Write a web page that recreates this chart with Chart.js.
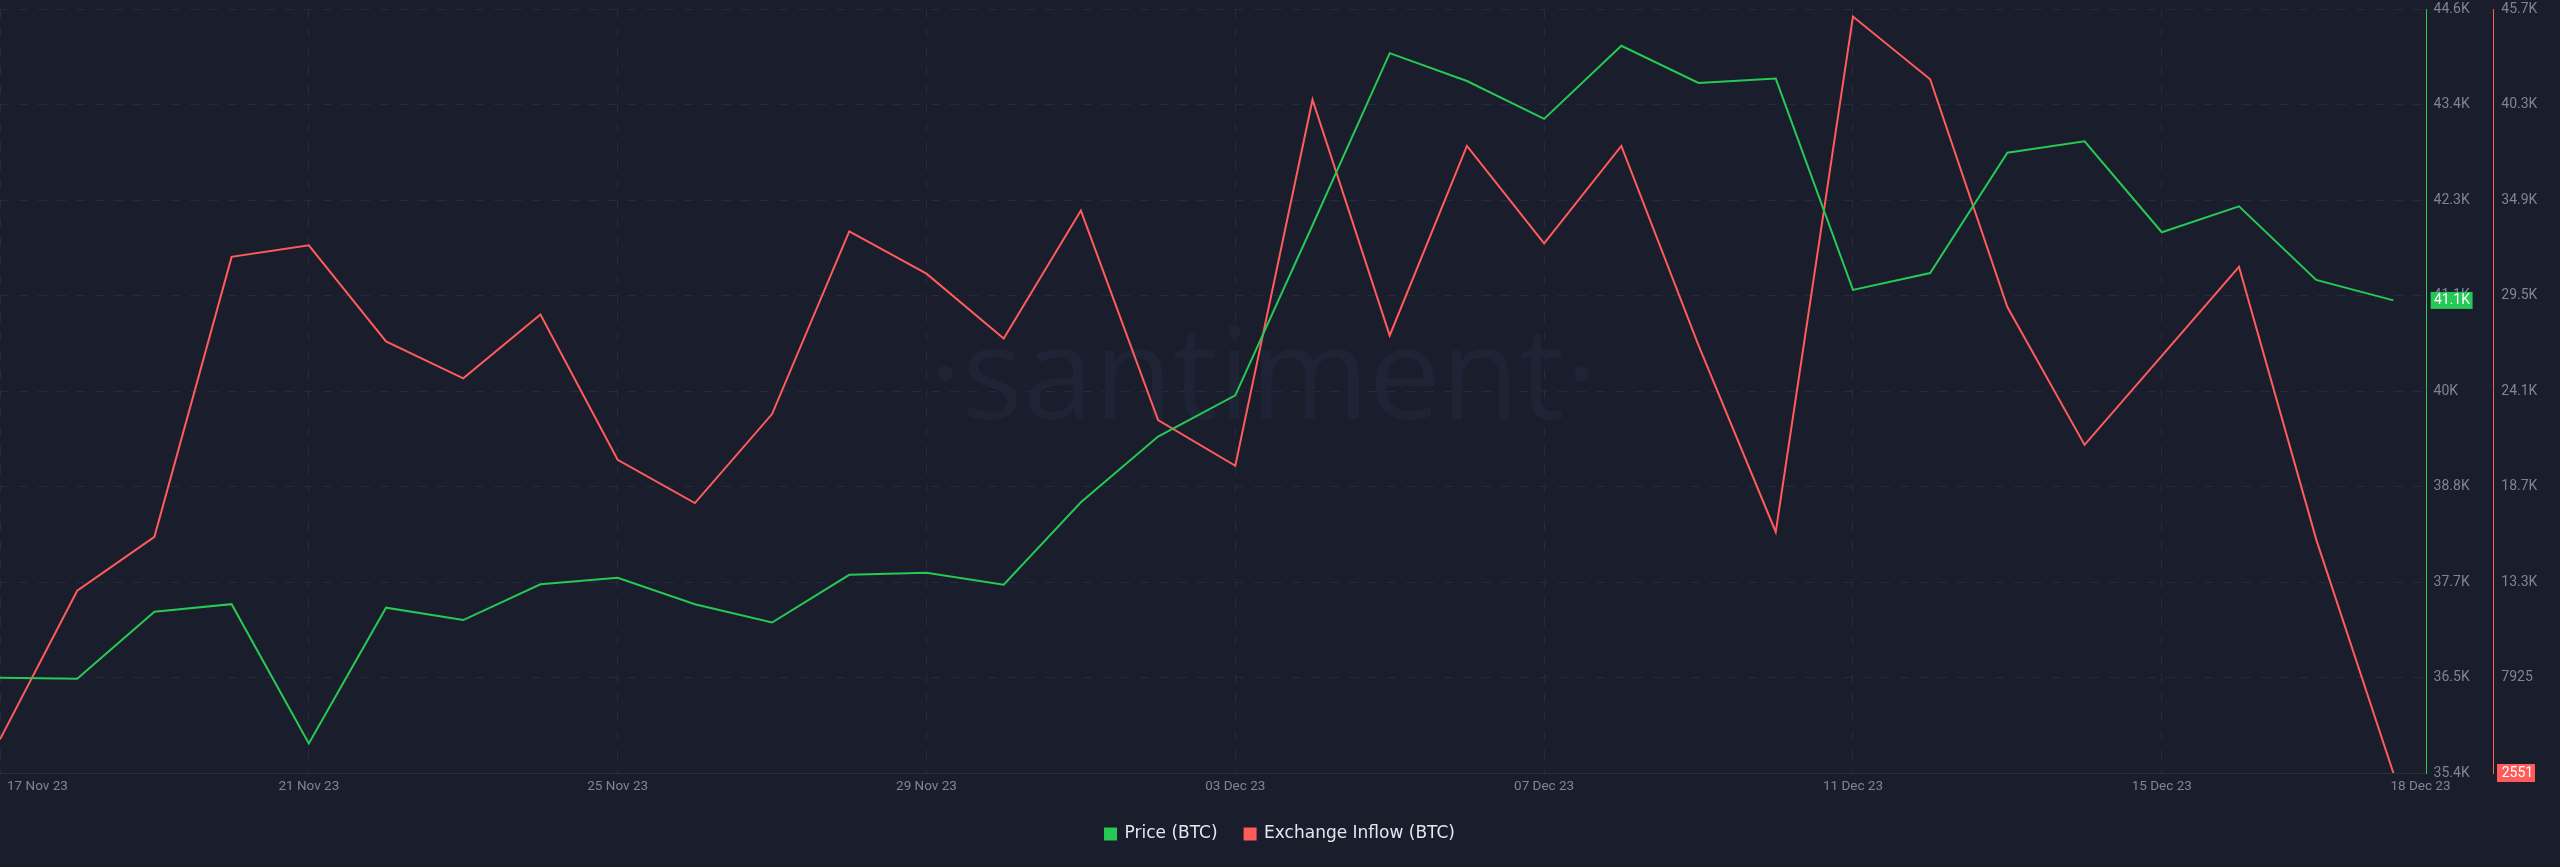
<!DOCTYPE html>
<html>
<head>
<meta charset="utf-8">
<script src="https://cdn.jsdelivr.net/npm/chart.js@4.4.1/dist/chart.umd.min.js"></script>
<style>
  html, body { margin: 0; padding: 0; background: #1a1d2c; }
  #wrap { width: 2560px; height: 867px; position: relative; }
</style>
</head>
<body>
<div id="wrap"><canvas id="c"></canvas></div>
<script>
// ---------- data ----------
const dates = [
  '17 Nov 23','18 Nov 23','19 Nov 23','20 Nov 23','21 Nov 23','22 Nov 23','23 Nov 23','24 Nov 23',
  '25 Nov 23','26 Nov 23','27 Nov 23','28 Nov 23','29 Nov 23','30 Nov 23','01 Dec 23','02 Dec 23',
  '03 Dec 23','04 Dec 23','05 Dec 23','06 Dec 23','07 Dec 23','08 Dec 23','09 Dec 23','10 Dec 23',
  '11 Dec 23','12 Dec 23','13 Dec 23','14 Dec 23','15 Dec 23','16 Dec 23','17 Dec 23','18 Dec 23'
];
const priceBTC = [
  36547, 36535, 37343, 37433, 35756, 37391, 37242, 37673,
  37751, 37433, 37212, 37787, 37811, 37667, 38661, 39451,
  39948, 41996, 44068, 43733, 43277, 44157, 43709, 43762,
  41218, 41421, 42870, 43007, 41912, 42224, 41338, 41091
];
const inflowBTC = [
  4449, 12847, 15886, 31700, 32350, 26928, 24844, 28441,
  20241, 17795, 22822, 33135, 30751, 27092, 34315, 22488,
  19902, 40579, 27261, 37970, 32463, 37970, 26702, 16163,
  45272, 41731, 28865, 21082, 26109, 31141, 15745, 2551
];
const xTickDays = [0, 4, 8, 12, 16, 20, 24, 28, 31];
const priceTickLabels = ['35.4K','36.5K','37.7K','38.8K','40K','41.1K','42.3K','43.4K','44.6K'];
const inflowTickLabels = ['2551','7925','13.3K','18.7K','24.1K','29.5K','34.9K','40.3K','45.7K'];
const priceAxisMin = 35400, priceAxisMax = 44600;
const inflowAxisMin = 2551, inflowAxisMax = 45700;
const priceBadgeLabel = '41.1K';
const inflowBadgeLabel = '2551';

// ---------- style ----------
const GREEN = '#26c953';
const RED = '#ff5b5b';
const TICK_COLOR = '#7f8499';
const GRID_COLOR = '#262a3c';

function evenTicks(scale, labels, min, max) {
  const n = labels.length;
  scale.ticks = labels.map((_, i) => ({ value: min + i * (max - min) / (n - 1) }));
}

const watermark = {
  id: 'watermark',
  beforeDatasetsDraw(chart) {
    const { ctx, chartArea } = chart;
    ctx.save();
    ctx.font = '128px "Open Sans"';
    ctx.fillStyle = '#1f2336';
    ctx.textAlign = 'center';
    ctx.textBaseline = 'alphabetic';
    const cx = (chartArea.left + chartArea.right) / 2 + 50;
    const cy = (chartArea.top + chartArea.bottom) / 2 + 28;
    ctx.fillText('·santiment·', cx, cy);
    ctx.restore();
  }
};

const xLabels = {
  id: 'xLabels',
  afterDraw(chart) {
    const { ctx } = chart;
    const xs = chart.scales.x;
    ctx.save();
    ctx.font = '13.5px Roboto';
    ctx.fillStyle = TICK_COLOR;
    ctx.textBaseline = 'middle';
    const y = xs.top + 13.5;
    xTickDays.forEach((d, i) => {
      const px = xs.getPixelForValue(d);
      if (i === 0) { ctx.textAlign = 'left'; ctx.fillText(dates[d], px + 7, y); }
      else if (i === xTickDays.length - 1) { ctx.textAlign = 'left'; ctx.fillText(dates[d], px - 3, y); }
      else { ctx.textAlign = 'center'; ctx.fillText(dates[d], px, y); }
    });
    ctx.restore();
  }
};

const badges = {
  id: 'badges',
  afterDraw(chart) {
    const { ctx } = chart;
    const ys = chart.scales.y, y1 = chart.scales.y1;
    ctx.save();
    ctx.font = '14px Roboto';
    ctx.textBaseline = 'middle';
    ctx.textAlign = 'left';
    const py = ys.getPixelForValue(priceBTC[priceBTC.length - 1]);
    ctx.fillStyle = GREEN;
    ctx.fillRect(ys.left + 4, py - 8.5, 42, 17);
    ctx.fillStyle = '#ffffff';
    ctx.fillText(priceBadgeLabel, ys.left + 7.3, py + 0.5);
    const iy = y1.getPixelForValue(inflowBTC[inflowBTC.length - 1]);
    ctx.fillStyle = RED;
    ctx.fillRect(y1.left + 3.7, iy - 9, 38, 18);
    ctx.fillStyle = '#ffffff';
    ctx.fillText(inflowBadgeLabel, y1.left + 8.4, iy + 0.5);
    ctx.restore();
  }
};

new Chart(document.getElementById('c'), {
  type: 'line',
  data: {
    datasets: [
      {
        label: 'Price (BTC)',
        data: priceBTC.map((v, i) => ({ x: i, y: v })),
        borderColor: GREEN,
        backgroundColor: GREEN,
        borderWidth: 2,
        pointRadius: 0,
        tension: 0,
        yAxisID: 'y'
      },
      {
        label: 'Exchange Inflow (BTC)',
        data: inflowBTC.map((v, i) => ({ x: i, y: v })),
        borderColor: RED,
        backgroundColor: RED,
        borderWidth: 2,
        pointRadius: 0,
        tension: 0,
        yAxisID: 'y1'
      }
    ]
  },
  options: {
    responsive: true,
    maintainAspectRatio: false,
    animation: false,
    devicePixelRatio: 1,
    layout: { padding: { top: 9, left: 0, right: 0, bottom: 14.5 } },
    plugins: {
      legend: {
        position: 'bottom',
        labels: {
          boxWidth: 11,
          boxHeight: 11,
          padding: 27,
          color: '#e6e7ec',
          font: { family: '"DejaVu Sans"', size: 17 }
        }
      },
      tooltip: { enabled: false }
    },
    scales: {
      x: {
        type: 'linear',
        min: 0,
        max: 31.43,
        afterBuildTicks: (s) => { s.ticks = xTickDays.map(v => ({ value: v })); },
        afterFit: (s) => { s.height = 25.5; },
        ticks: { display: false },
        grid: {
          drawTicks: false,
          color: (c) => (c.tick && c.tick.value === 31) ? 'rgba(0,0,0,0)' : GRID_COLOR
        },
        border: { display: true, color: '#2a2e41', width: 1, dash: [9, 10] }
      },
      y: {
        type: 'linear',
        position: 'right',
        min: priceAxisMin,
        max: priceAxisMax,
        afterBuildTicks: (s) => evenTicks(s, priceTickLabels, priceAxisMin, priceAxisMax),
        afterFit: (s) => { s.width = 66.7; s.paddingTop = 0; s.paddingBottom = 0; },
        ticks: {
          callback: (v, i) => priceTickLabels[i],
          color: TICK_COLOR,
          font: { family: 'Roboto', size: 14, lineHeight: 0.05 },
          padding: 7,
          autoSkip: false
        },
        grid: { drawTicks: false, color: GRID_COLOR },
        border: { display: true, color: GREEN, width: 1, dash: [9, 10] }
      },
      y1: {
        type: 'linear',
        position: 'right',
        min: inflowAxisMin,
        max: inflowAxisMax,
        afterBuildTicks: (s) => evenTicks(s, inflowTickLabels, inflowAxisMin, inflowAxisMax),
        afterFit: (s) => { s.width = 66.7; s.paddingTop = 0; s.paddingBottom = 0; },
        ticks: {
          callback: (v, i) => inflowTickLabels[i],
          color: TICK_COLOR,
          font: { family: 'Roboto', size: 14, lineHeight: 0.05 },
          padding: 8,
          autoSkip: false
        },
        grid: { drawOnChartArea: false, drawTicks: false },
        border: { display: true, color: RED, width: 1 }
      }
    }
  },
  plugins: [watermark, xLabels, badges]
});
</script>
</body>
</html>
